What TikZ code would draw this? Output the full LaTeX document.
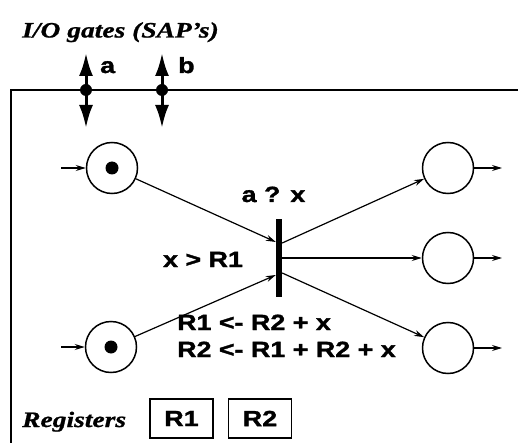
\documentclass[tikz,border=0pt]{standalone}
\usepackage{fontspec}
\usetikzlibrary{arrows.meta}
\newfontfamily\labfont[FakeStretch=1.22,FakeBold=1.5]{Liberation Sans Bold}
\newfontfamily\ttlfont[FakeStretch=1.25,FakeBold=1]{Liberation Serif Bold Italic}
\begin{document}
\begin{tikzpicture}[x=1pt,y=-1pt,
  place/.style={circle,draw,line width=1.5pt,minimum size=51pt,inner sep=0pt},
  token/.style={circle,fill,minimum size=13pt,inner sep=0pt},
  trans/.style={fill,minimum width=6pt,minimum height=77pt,inner sep=0pt},
  arc/.style={line width=1.2pt,-{Stealth[length=10pt,width=6pt]}},
  lab/.style={font=\labfont\fontsize{22}{26}\selectfont,inner sep=0pt},
  ttl/.style={font=\ttlfont\fontsize{22}{26}\selectfont,inner sep=0pt},
  reg/.style={draw,line width=1.5pt,minimum width=63pt,minimum height=39pt,inner sep=0pt},
  gate/.style={line width=3pt,{Latex[length=23pt,width=14pt]}-{Latex[length=23pt,width=14pt]}},
  gdot/.style={circle,fill,minimum size=12pt,inner sep=0pt}]
\useasboundingbox (0,0) rectangle (518,443);
% frame
\coordinate (fa) at (11,443);
\coordinate (fb) at (11,90);
\coordinate (fc) at (518,90);
\draw[line width=1.5pt] (fa) -- (fb) -- (fc);
% title
\node[ttl,anchor=base west] (title) at (22,37.5) {I/O gates (SAP’s)};
% gates
\coordinate (ga1) at (86,53);
\coordinate (ga2) at (86,128);
\draw[gate] (ga1) -- (ga2);
\node[gdot] (gd1) at (86,90) {};
\node[lab,anchor=base west] (la) at (100,73) {a};
\coordinate (gb1) at (162,53);
\coordinate (gb2) at (162,128);
\draw[gate] (gb1) -- (gb2);
\node[gdot] (gd2) at (162,90) {};
\node[lab,anchor=base west] (lb) at (178,73) {b};
% places
\node[place] (p1) at (112,168) {};
\node[token] (k1) at (p1) {};
\node[place] (p2) at (111,347) {};
\node[token] (k2) at (p2) {};
\node[place] (q1) at (448,168) {};
\node[place] (q2) at (448,258) {};
\node[place] (q3) at (448,348) {};
% transition
\node[trans] (t) at (279,258) {};
% inputs / outputs
\coordinate (i1) at (61,168);
\coordinate (i2) at (61,347);
\coordinate (o1) at (502,168);
\coordinate (o2) at (502,258);
\coordinate (o3) at (502,348);
\draw[arc] (i1) -- (p1);
\draw[arc] (i2) -- (p2);
\draw[arc] (q1) -- (o1);
\draw[arc] (q2) -- (o2);
\draw[arc] (q3) -- (o3);
% arcs
\draw[arc] (p1) -- ([yshift=16pt]t.west);
\draw[arc] (p2) -- ([yshift=-17pt]t.west);
\draw[arc] ([yshift=15pt]t.east) -- (q1);
\draw[arc] (t.east) -- (q2);
\draw[arc] ([yshift=-15pt]t.east) -- (q3);
% labels
\node[lab,anchor=base] (guard) at (273.5,202) {a ? x};
\node[lab,anchor=base] (cond) at (203,267) {x > R1};
\node[lab,anchor=base west] (as1) at (177,330) {R1 <- R2 + x};
\node[lab,anchor=base west] (as2) at (177,357) {R2 <- R1 + R2 + x};
% registers
\node[ttl,anchor=base west] (regt) at (22,427) {Registers};
\node[reg,lab] (r1) at (181.5,418.5) {R1};
\node[reg,lab] (r2) at (260,418.5) {R2};
\end{tikzpicture}
\end{document}
